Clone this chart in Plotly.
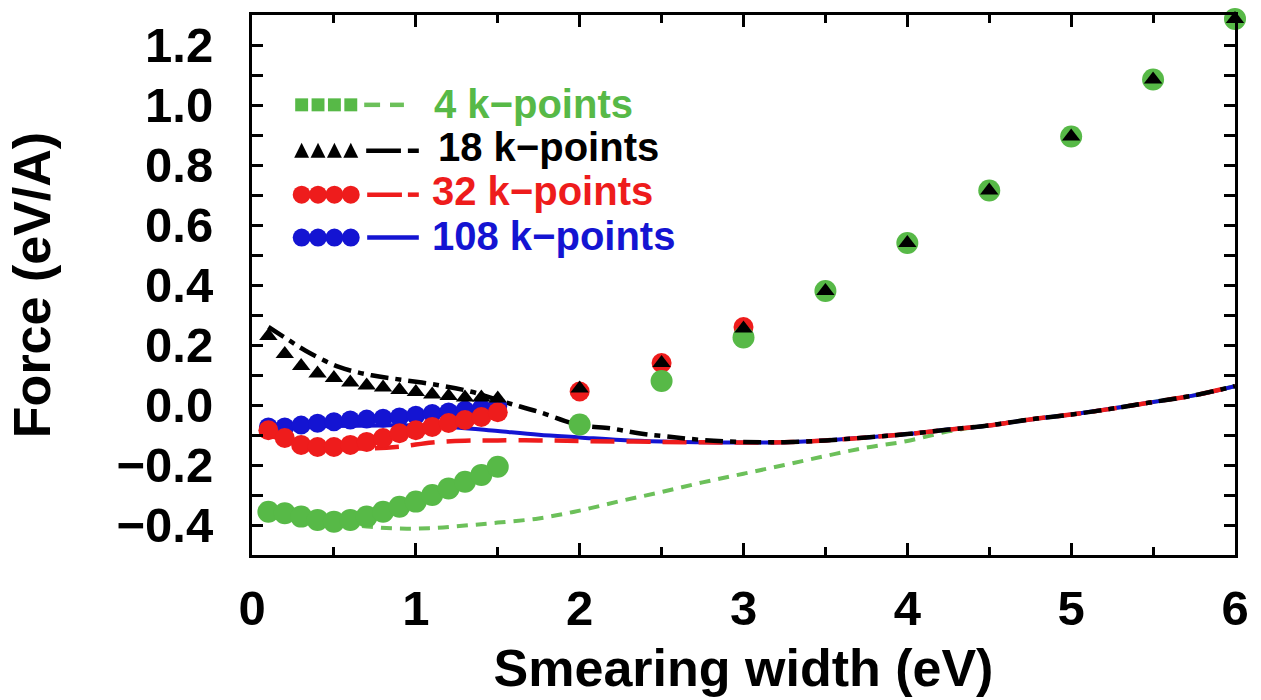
import plotly.graph_objects as go

# ---------------- data ----------------
# SCF force points (markers)
pts_x = [0.1, 0.2, 0.3, 0.4, 0.5, 0.6, 0.7, 0.8, 0.9, 1.0, 1.1, 1.2, 1.3, 1.4, 1.5,
         2.0, 2.5, 3.0, 3.5, 4.0, 4.5, 5.0, 5.5, 6.0]
k4_pts = [-0.356, -0.361, -0.372, -0.383, -0.389, -0.383, -0.372, -0.356, -0.339, -0.322,
          -0.300, -0.278, -0.256, -0.233, -0.206,
          -0.065, 0.080, 0.225, 0.380, 0.540, 0.715, 0.895, 1.085, 1.287]
k18_pts = [0.230, 0.170, 0.130, 0.105, 0.090, 0.075, 0.065, 0.058, 0.050, 0.043,
           0.035, 0.030, 0.025, 0.025, 0.022,
           0.055, 0.140, 0.255, 0.380, 0.540, 0.715, 0.895, 1.085, 1.287]
k32_pts = [-0.084, -0.110, -0.133, -0.140, -0.140, -0.133, -0.123, -0.110, -0.094, -0.084,
           -0.073, -0.060, -0.050, -0.040, -0.024,
           0.045, 0.140, 0.260, 0.380, 0.540, 0.715, 0.895, 1.085, 1.287]
k108_x = [0.1, 0.2, 0.3, 0.4, 0.5, 0.6, 0.7, 0.8, 0.9, 1.0, 1.1, 1.2, 1.3, 1.4, 1.5]
k108_pts = [-0.073, -0.073, -0.067, -0.061, -0.056, -0.050, -0.047, -0.044, -0.040, -0.034,
            -0.028, -0.023, -0.017, -0.011, -0.005]

# Curves (lines)
k4_cx = [0.1, 0.3, 0.5, 0.7, 0.9, 1.1, 1.3, 1.5, 1.75, 2.0, 2.25, 2.5, 2.75, 3.0, 3.25,
         3.5, 3.75, 4.0, 4.25, 4.5, 4.75, 5.0, 5.25, 5.5, 5.75, 6.0]
k4_cy = [-0.350, -0.370, -0.390, -0.405, -0.412, -0.410, -0.402, -0.392, -0.378, -0.352,
         -0.320, -0.290, -0.258, -0.229, -0.200, -0.170, -0.142, -0.120, -0.088, -0.068,
         -0.048, -0.032, -0.012, 0.010, 0.032, 0.063]
k18_cx = [0.1, 0.2, 0.33, 0.53, 0.73, 0.93, 1.14, 1.34, 1.54, 1.75, 2.0, 2.19, 2.37, 2.55,
          2.76, 3.0, 3.25, 3.5, 3.75, 4.0, 4.25, 4.5, 4.75, 5.0, 5.25, 5.5, 5.75, 6.0]
k18_cy = [0.260, 0.225, 0.180, 0.127, 0.099, 0.083, 0.066, 0.044, 0.010, -0.023, -0.067,
          -0.078, -0.095, -0.106, -0.117, -0.123, -0.124, -0.118, -0.108, -0.097, -0.082,
          -0.068, -0.048, -0.032, -0.012, 0.010, 0.032, 0.063]
k32_cx = [0.1, 0.3, 0.5, 0.7, 0.9, 1.1, 1.3, 1.5, 1.75, 2.0, 2.5, 3.0, 3.25, 3.5, 3.75,
          4.0, 4.25, 4.5, 4.75, 5.0, 5.25, 5.5, 5.75, 6.0]
k32_cy = [-0.100, -0.130, -0.142, -0.145, -0.139, -0.125, -0.119, -0.118, -0.118, -0.120,
          -0.123, -0.125, -0.124, -0.118, -0.108, -0.097, -0.082, -0.068, -0.048, -0.032,
          -0.012, 0.010, 0.032, 0.063]
k108_cx = [0.1, 0.5, 0.8, 1.0, 1.25, 1.5, 1.75, 2.0, 2.25, 2.5, 2.75, 3.0, 3.25, 3.5, 3.75,
           4.0, 4.25, 4.5, 4.75, 5.0, 5.25, 5.5, 5.75, 6.0]
k108_cy = [-0.075, -0.070, -0.068, -0.068, -0.075, -0.087, -0.099, -0.108, -0.117, -0.122,
           -0.124, -0.125, -0.124, -0.118, -0.108, -0.097, -0.082, -0.068, -0.048, -0.032,
           -0.012, 0.010, 0.032, 0.063]

legend_labels = ["4 k\u2212points", "18 k\u2212points", "32 k\u2212points", "108 k\u2212points"]

x_ticks = [0, 1, 2, 3, 4, 5, 6]
y_ticks = [-0.4, -0.2, 0.0, 0.2, 0.4, 0.6, 0.8, 1.0, 1.2]
y_ticklabels = ["\u22120.4", "\u22120.2", "0.0", "0.2", "0.4", "0.6", "0.8", "1.0", "1.2"]

# ---------------- style ----------------
GREEN = "#57b947"
GREEN_L = "#6cc05a"
BLACK = "#000000"
RED = "#ee1c1c"
BLUE = "#1414d2"
FONT = "Liberation Sans, Arial, sans-serif"

W, H = 1261, 700
ML, MR, MT, MB = 252, 19, 14, 145
PW, PH = W - ML - MR, H - MT - MB


def fx(px):
    return (px - ML) / PW


def fy(py):
    return (H - MB - py) / PH


fig = go.Figure()

# curves
fig.add_trace(go.Scatter(x=k4_cx, y=k4_cy, mode="lines", line_shape="spline",
                         line=dict(color=GREEN_L, width=4, dash="11px,8px"), showlegend=False))
fig.add_trace(go.Scatter(x=k108_cx, y=k108_cy, mode="lines", line_shape="spline",
                         line=dict(color=BLUE, width=4), showlegend=False))
fig.add_trace(go.Scatter(x=k32_cx, y=k32_cy, mode="lines", line_shape="spline",
                         line=dict(color=RED, width=4.5, dash="24px,12px"), showlegend=False))
fig.add_trace(go.Scatter(x=k18_cx, y=k18_cy, mode="lines", line_shape="spline",
                         line=dict(color=BLACK, width=4.5, dash="18px,7px,6px,7px"), showlegend=False))

# markers
fig.add_trace(go.Scatter(x=k108_x, y=k108_pts, mode="markers", cliponaxis=False,
                         marker=dict(symbol="circle", size=19, color=BLUE), showlegend=False))
fig.add_trace(go.Scatter(x=pts_x, y=k32_pts, mode="markers", cliponaxis=False,
                         marker=dict(symbol="circle", size=20, color=RED), showlegend=False))
fig.add_trace(go.Scatter(x=pts_x, y=k4_pts, mode="markers", cliponaxis=False,
                         marker=dict(symbol="circle", size=22, color=GREEN), showlegend=False))
fig.add_trace(go.Scatter(x=pts_x, y=k18_pts, mode="markers", cliponaxis=False,
                         marker=dict(symbol="triangle-up", size=16, color=BLACK), showlegend=False))

# ---------------- custom legend ----------------
shapes = []
ann = []
rows = [
    dict(label=legend_labels[0], color=GREEN, tc=GREEN, kind="square", cy=104, ty=103, tx=433,
         segs=[(365, 381), (391, 405)], lc=GREEN_L),
    dict(label=legend_labels[1], color=BLACK, tc=BLACK, kind="tri", cy=150, ty=146, tx=437,
         segs=[(367, 402), (409, 420)], lc=BLACK),
    dict(label=legend_labels[2], color=RED, tc=RED, kind="circle", cy=194, ty=190, tx=431,
         segs=[(368, 403), (409, 420)], lc=RED),
    dict(label=legend_labels[3], color=BLUE, tc=BLUE, kind="circle", cy=237, ty=235, tx=431,
         segs=[(368, 420)], lc=BLUE),
]
for r in rows:
    for i in range(4):
        cx = 302 + 16.5 * i
        cy = r["cy"]
        if r["kind"] == "square":
            s = 6.5
            shapes.append(dict(type="rect", xref="paper", yref="paper",
                               x0=fx(cx - s), x1=fx(cx + s), y0=fy(cy + s), y1=fy(cy - s),
                               fillcolor=r["color"], line=dict(width=0)))
        elif r["kind"] == "tri":
            path = "M {} {} L {} {} L {} {} Z".format(
                fx(cx - 7.5), fy(cy + 7), fx(cx + 7.5), fy(cy + 7), fx(cx), fy(cy - 8))
            shapes.append(dict(type="path", xref="paper", yref="paper", path=path,
                               fillcolor=r["color"], line=dict(width=0)))
        else:
            s = 9
            shapes.append(dict(type="circle", xref="paper", yref="paper",
                               x0=fx(cx - s), x1=fx(cx + s), y0=fy(cy + s), y1=fy(cy - s),
                               fillcolor=r["color"], line=dict(width=0)))
    for a, b in r["segs"]:
        shapes.append(dict(type="line", xref="paper", yref="paper",
                           x0=fx(a), x1=fx(b), y0=fy(r["cy"]), y1=fy(r["cy"]),
                           line=dict(color=r["lc"], width=4.5)))
    ann.append(dict(text=r["label"], xref="paper", yref="paper", x=fx(r["tx"]), y=fy(r["ty"]),
                    xanchor="left", yanchor="middle", showarrow=False,
                    font=dict(family=FONT, size=40, color=r["tc"], weight="bold")))

axis_common = dict(showline=True, linecolor="black", linewidth=3, mirror="ticks",
                   ticks="inside", tickcolor="black", tickwidth=3, showgrid=False,
                   zeroline=False,
                   tickfont=dict(family=FONT, size=49, color="black", weight="bold"))

fig.update_layout(
    width=W, height=H,
    margin=dict(l=ML, r=MR, t=MT, b=MB),
    paper_bgcolor="white", plot_bgcolor="white",
    shapes=shapes, annotations=ann,
    showlegend=False,
    xaxis=dict(range=[0, 6], tickvals=x_ticks, ticklen=12, ticklabelstandoff=8,
               minor=dict(dtick=0.5, ticklen=8, tickwidth=3, tickcolor="black", ticks="inside"),
               title=dict(text="Smearing width (eV)", standoff=16,
                          font=dict(family=FONT, size=52, color="black", weight="bold")),
               **axis_common),
    yaxis=dict(range=[-0.5, 1.3], tickvals=y_ticks, ticktext=y_ticklabels, ticklen=11,
               ticklabelstandoff=26,
               minor=dict(dtick=0.1, tick0=0, ticklen=11, tickwidth=3, tickcolor="black",
                          ticks="inside"),
               title=dict(text="Force (eV/A)", standoff=50,
                          font=dict(family=FONT, size=52, color="black", weight="bold")),
               **axis_common),
)

fig.write_html("out.html")
